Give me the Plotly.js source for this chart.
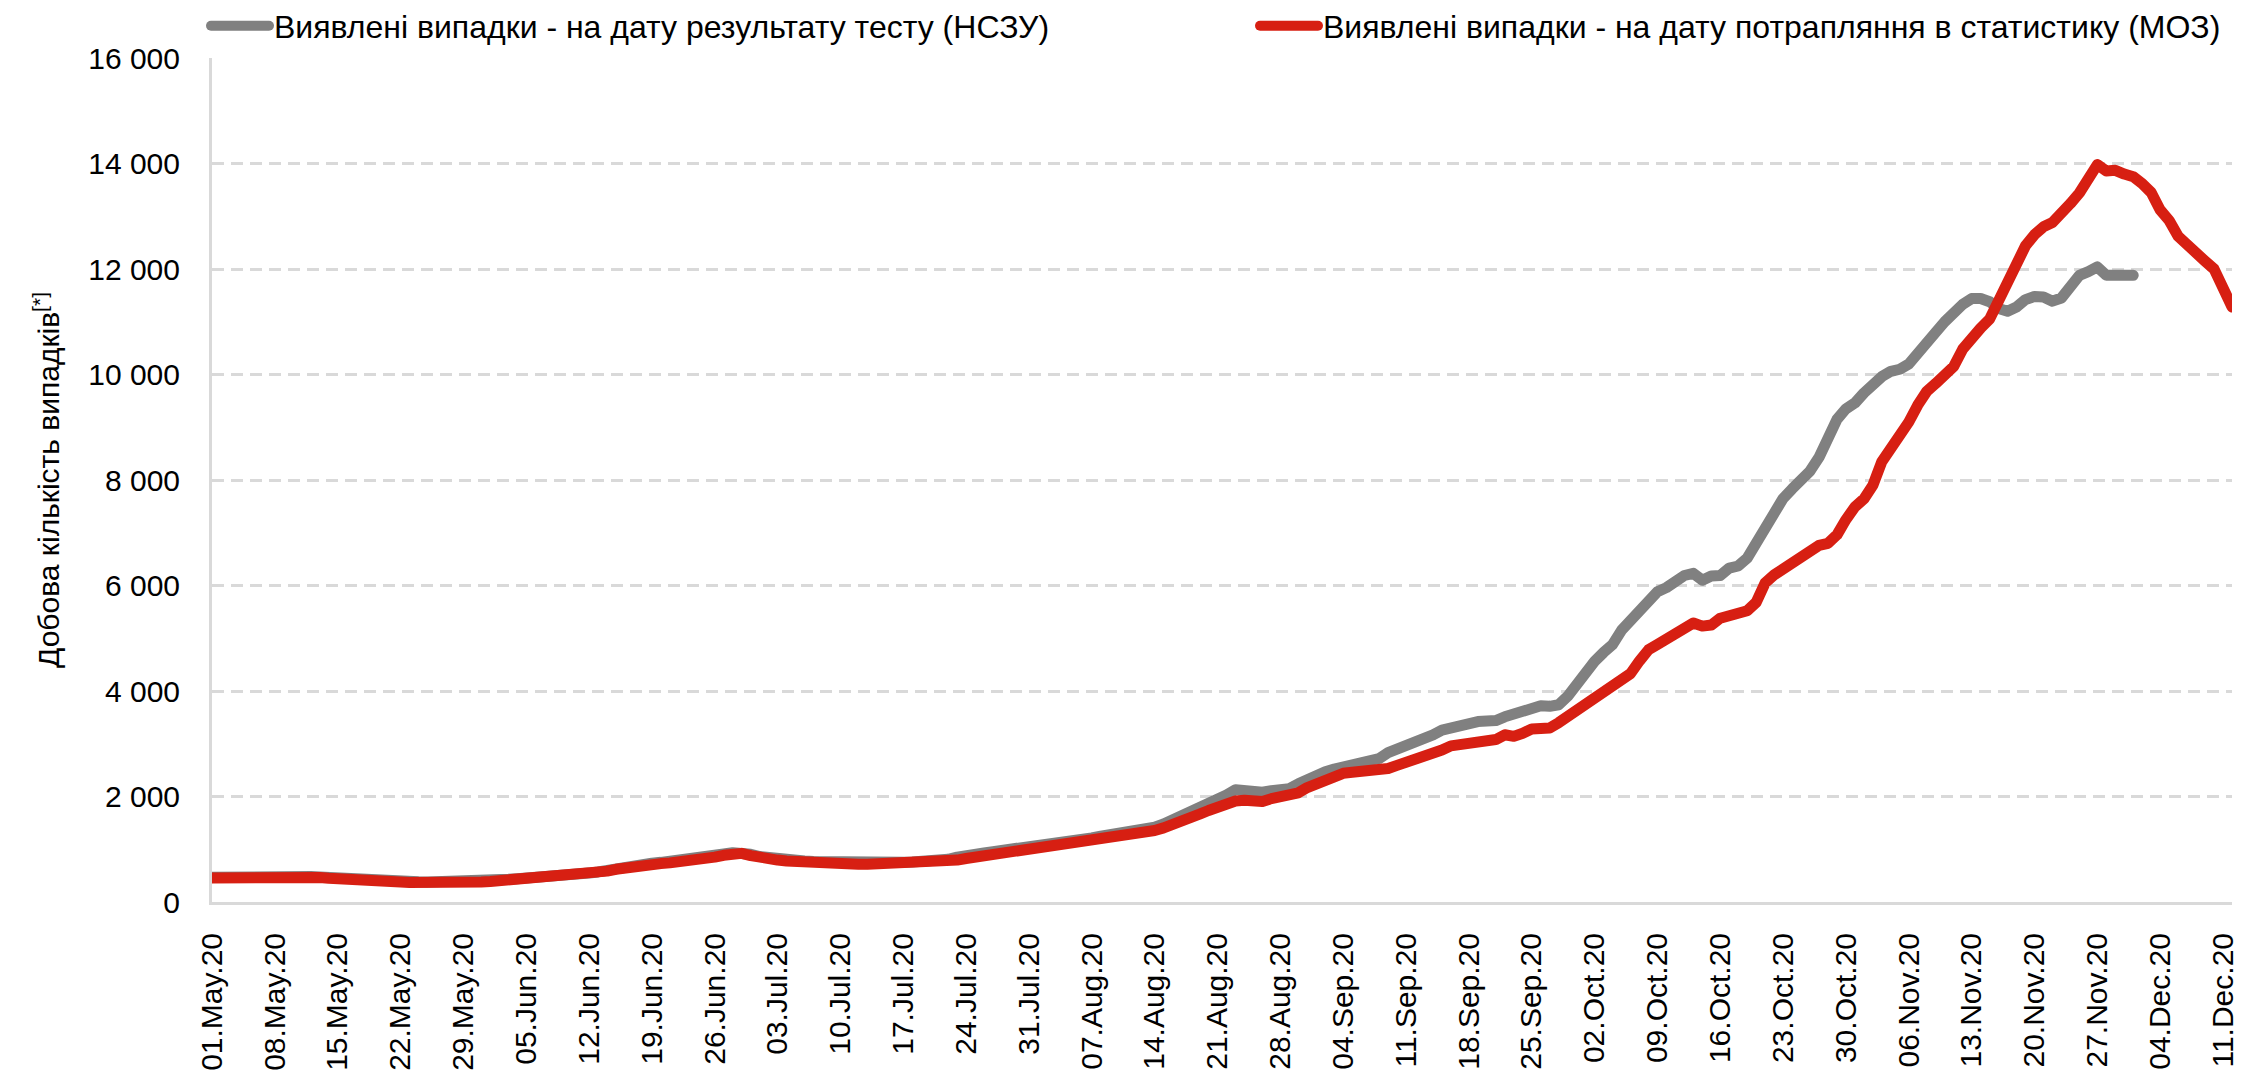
<!DOCTYPE html>
<html>
<head>
<meta charset="utf-8">
<script src="https://cdn.plot.ly/plotly-3.0.1.min.js"></script>
<style>
  html, body { margin: 0; padding: 0; background: #fff; }
  #chart { width: 2241px; height: 1073px; }
  #chart .scatterlayer .js-line, #chart .legendlines path { stroke-linecap: round; stroke-linejoin: round; }
</style>
</head>
<body>
<div id="chart"></div>
<script>
// ---- Data ----
const startDate = '2020-05-01';
const endDate = '2020-12-12';

const seriesNameNSZU = 'Виявлені випадки - на дату результату тесту (НСЗУ)';
const seriesNameMOZ = 'Виявлені випадки - на дату потрапляння в статистику (МОЗ)';

// daily values from 01.May.20 to 01.Dec.20
const casesNSZU = [
  470, 475, 478, 480, 484, 488, 492, 494, 494, 492,
  490, 484, 475, 462, 448, 436, 426, 418, 410, 404,
  398, 392, 386, 382, 380, 380, 380, 382, 384, 388,
  396, 406, 418, 430, 440, 448, 460, 470, 482, 495,
  510, 528, 548, 570, 605, 640, 670, 695, 718, 736,
  752, 768, 782, 798, 815, 842, 875, 910, 935, 945,
  905, 862, 835, 815, 798, 785, 776, 768, 762, 756,
  750, 744, 740, 738, 740, 744, 748, 752, 757, 764,
  765, 780, 810, 850, 890, 912, 930, 955, 975, 995,
  1015, 1040, 1060, 1085, 1105, 1120, 1140, 1180, 1215, 1250,
  1275, 1290, 1310, 1335, 1370, 1420, 1480, 1560, 1620, 1690,
  1760, 1830, 1920, 2030, 2130, 2110, 2075, 2080, 2110, 2140,
  2150, 2240, 2330, 2410, 2470, 2520, 2550, 2610, 2650, 2670,
  2720, 2830, 2900, 2960, 3000, 3060, 3170, 3260, 3310, 3350,
  3380, 3420, 3430, 3440, 3510, 3560, 3610, 3700, 3720, 3710,
  3740, 3900, 4150, 4380, 4560, 4730, 4880, 5150, 5340, 5500,
  5700, 5880, 5960, 6080, 6190, 6230, 6100, 6180, 6190, 6330,
  6370, 6520, 6820, 7100, 7400, 7650, 7830, 8000, 8170, 8430,
  8750, 9150, 9350, 9460, 9650, 9830, 9960, 10060, 10100, 10200,
  10380, 10580, 10800, 11000, 11180, 11330, 11440, 11440, 11380, 11250,
  11200, 11280, 11420, 11480, 11470, 11390, 11450, 11660, 11880, 11950,
  12040, 11880, 11870, 11890, 11880
];

// daily values from 01.May.20 to 12.Dec.20
const casesMOZ = [
  455, 460, 465, 468, 472, 476, 480, 482, 482, 481,
  480, 474, 465, 450, 435, 422, 412, 404, 396, 390,
  384, 378, 372, 368, 366, 366, 366, 367, 368, 372,
  380, 390, 402, 415, 425, 432, 445, 455, 465, 478,
  492, 510, 528, 548, 585, 620, 650, 675, 695, 712,
  728, 742, 755, 770, 788, 815, 850, 885, 912, 922,
  880, 840, 812, 795, 778, 765, 755, 748, 742, 736,
  730, 722, 716, 716, 720, 725, 730, 735, 740, 746,
  750, 756, 770, 795, 825, 850, 870, 888, 905, 935,
  965, 980, 995, 1015, 1035, 1060, 1100, 1145, 1180, 1200,
  1210, 1220, 1240, 1270, 1310, 1355, 1405, 1460, 1525, 1595,
  1665, 1735, 1800, 1860, 1915, 1930, 1905, 1905, 1960, 1995,
  2020, 2070, 2170, 2240, 2300, 2370, 2440, 2460, 2470, 2500,
  2520, 2530, 2590, 2640, 2690, 2730, 2790, 2880, 2960, 2980,
  3000, 3060, 3090, 3080, 3170, 3140, 3200, 3280, 3290, 3300,
  3400, 3510, 3640, 3760, 3870, 3990, 4100, 4220, 4330, 4570,
  4780, 4880, 4990, 5130, 5240, 5290, 5230, 5250, 5380, 5440,
  5490, 5520, 5680, 6050, 6200, 6310, 6420, 6520, 6680, 6760,
  6800, 6960, 7250, 7490, 7640, 7900, 8350, 8600, 8770, 9100,
  9420, 9680, 9830, 10000, 10150, 10480, 10720, 10880, 11050, 11400,
  11780, 12150, 12440, 12650, 12800, 12880, 13030, 13240, 13440, 13700,
  13980, 13860, 13870, 13800, 13750, 13620, 13450, 13120, 12920, 12620,
  12480, 12350, 12150, 12000, 11650, 11280
];

const yTickValues = [0, 2000, 4000, 6000, 8000, 10000, 12000, 14000, 16000];
const yTickLabels = ['0', '2 000', '4 000', '6 000', '8 000', '10 000', '12 000', '14 000', '16 000'];
const yAxisTitle = 'Добова кількість випадків<sup>[*]</sup>';

// one calendar date per daily value
function datesFrom(start, count) {
  const out = [];
  const t0 = Date.parse(start + 'T00:00:00Z');
  for (let i = 0; i < count; i++) {
    out.push(new Date(t0 + i * 86400000).toISOString().slice(0, 10));
  }
  return out;
}
const datesNSZU = datesFrom(startDate, casesNSZU.length);
const datesMOZ = datesFrom(startDate, casesMOZ.length);

// ---- Chart ----
const FONT = 'Liberation Sans, Arial, Helvetica, sans-serif';
const GRID = '#d9d9d9';

const traces = [
  {
    type: 'scatter', mode: 'lines', name: seriesNameNSZU,
    x: datesNSZU, y: casesNSZU,
    line: { color: '#808080', width: 11 },
    cliponaxis: false, legend: 'legend'
  },
  {
    type: 'scatter', mode: 'lines', name: seriesNameMOZ,
    x: datesMOZ, y: casesMOZ,
    line: { color: '#d71f12', width: 11 },
    cliponaxis: false, legend: 'legend2'
  }
];

const legendBase = {
  orientation: 'h',
  xref: 'container', yref: 'container',
  y: 1 - 26 / 1073,
  xanchor: 'left', yanchor: 'middle',
  itemwidth: 58,
  font: { family: FONT, size: 32, color: '#000000' },
  bgcolor: 'rgba(0,0,0,0)', borderwidth: 0
};

const layout = {
  width: 2241, height: 1073,
  margin: { l: 212, r: 9, t: 58, b: 171, pad: 0 },
  paper_bgcolor: '#ffffff', plot_bgcolor: '#ffffff',
  font: { family: FONT, size: 30, color: '#000000' },
  hovermode: false,
  showlegend: true,
  legend: Object.assign({}, legendBase, { x: 206 / 2241 }),
  legend2: Object.assign({}, legendBase, { x: 1255 / 2241 }),
  xaxis: {
    type: 'date',
    range: [startDate, endDate],
    tick0: startDate, dtick: 7 * 86400000,
    tickformat: '%d.%b.%y',
    tickangle: -90,
    tickfont: { family: FONT, size: 30, color: '#000000' },
    ticks: '', ticklabelstandoff: 16,
    showgrid: false, zeroline: false,
    showline: true, linecolor: GRID, linewidth: 3,
    automargin: false, fixedrange: true
  },
  yaxis: {
    range: [0, 16000],
    tickmode: 'array', tickvals: yTickValues, ticktext: yTickLabels,
    tickfont: { family: FONT, size: 30, color: '#000000' },
    ticks: '', ticklabelstandoff: 23,
    showgrid: true, gridcolor: GRID, gridwidth: 3, griddash: '12px,7px',
    zeroline: false,
    showline: true, linecolor: GRID, linewidth: 3,
    automargin: false, fixedrange: true,
    title: { text: yAxisTitle, font: { family: FONT, size: 30, color: '#000000' }, standoff: 20 }
  }
};

Plotly.newPlot('chart', traces, layout, { staticPlot: true, displayModeBar: false });
</script>
</body>
</html>
